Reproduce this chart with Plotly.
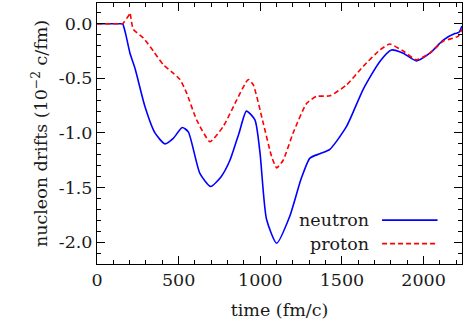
import plotly.graph_objects as go

# neutron drift (10^-2 c/fm) vs time (fm/c)
neutron_t = [0, 150, 157, 175, 202, 233, 294, 355, 416, 467, 522, 559, 630, 696, 760, 814, 870, 915,
             967, 998, 1038, 1100, 1181, 1250, 1304, 1365, 1426, 1528, 1630, 1732, 1803,
             1875, 1956, 2038, 2120, 2191, 2215, 2235]
neutron_v = [0.0, 0.0, 0.0, -0.09, -0.27, -0.41, -0.76, -1.00, -1.10, -1.05, -0.95, -0.99, -1.37, -1.49,
             -1.40, -1.25, -1.00, -0.80, -0.88, -1.18, -1.79, -2.01, -1.76, -1.42, -1.23,
             -1.19, -1.15, -0.94, -0.60, -0.345, -0.24, -0.27, -0.34, -0.27, -0.15, -0.09,
             -0.08, -0.02]

proton_t = [0, 150, 157, 198, 202, 206, 222, 284, 345, 406, 457, 508, 549, 610, 692, 773, 855, 926, 957,
            1018, 1069, 1100, 1140, 1201, 1283, 1344, 1426, 1528, 1630, 1732, 1793, 1875,
            1956, 2038, 2120, 2211, 2235]
proton_v = [0.0, 0.0, 0.0, 0.085, 0.10, 0.07, -0.05, -0.13, -0.25, -0.375, -0.44, -0.51, -0.635, -0.88, -1.08,
            -0.94, -0.70, -0.51, -0.56, -0.91, -1.215, -1.32, -1.25, -1.00, -0.73, -0.665,
            -0.66, -0.56, -0.39, -0.24, -0.186, -0.25, -0.33, -0.27, -0.16, -0.115, -0.05]

y_tick_default = ["\u22122.0", "\u22121.5", "\u22121.0", "\u22120.5"]
y_ticktext = ["-2.0", "-1.5", "-1.0", "-0.5"]

series_names = ["neutron", "proton"]

X_RANGE = [0, 2235]
Y_RANGE = [-2.2, 0.19]
X_MAJOR, X_MINOR = 500, 100
Y_MAJOR, Y_MINOR = 0.5, 0.1

FONT = "DejaVu Serif"
TXT = "#1a1a1a"
FS = 17.5

fig = go.Figure()
fig.add_trace(go.Scatter(x=neutron_t, y=neutron_v, mode="lines", name=series_names[0],
                         line=dict(color="#0000ff", width=1.6, shape="spline", smoothing=0.6),
                         showlegend=False))
fig.add_trace(go.Scatter(x=proton_t, y=proton_v, mode="lines", name=series_names[1],
                         line=dict(color="#ff0000", width=1.6, dash="5px,3px", shape="spline", smoothing=0.5),
                         showlegend=False))
# empty traces so the extra tick-only axes are drawn
for k in (2, 3, 4):
    fig.add_trace(go.Scatter(x=[None], y=[None], xaxis=f"x{k}", yaxis=f"y{k}", mode="lines",
                             showlegend=False, hoverinfo="skip"))

def tick_axis(rng, dtick, length, side, overlay, anchor):
    return dict(range=rng, tickmode="linear", tick0=0, dtick=dtick, ticks="inside",
                ticklen=length, tickwidth=1, tickcolor="red" if False else "#000000",
                showticklabels=False, showline=False, showgrid=False, zeroline=False,
                side=side, overlaying=overlay, anchor=anchor)

fig.update_layout(
    xaxis=dict(range=X_RANGE, tickmode="linear", tick0=0, dtick=X_MAJOR, ticks="inside",
               ticklen=8, tickwidth=1, tickcolor="#000000", showline=True, linecolor="black",
               linewidth=1, mirror=True, showgrid=False,
               tickfont=dict(family=FONT, size=FS, color=TXT),
               title=dict(text="time (fm/c)", font=dict(family=FONT, size=FS, color=TXT), standoff=14)),
    yaxis=dict(range=Y_RANGE, tickmode="linear", tick0=0, dtick=Y_MAJOR, tickformat=".1f",
               labelalias=dict(zip(y_tick_default, y_ticktext)), ticks="inside",
               ticklen=8, tickwidth=1, tickcolor="#000000", showline=True, linecolor="black",
               linewidth=1, mirror=True, showgrid=False, zeroline=False,
               tickfont=dict(family=FONT, size=FS, color=TXT),
               title=dict(text="nucleon drifts (10<sup>−2</sup> c/fm)", font=dict(family=FONT, size=FS, color=TXT), standoff=6)),
    xaxis2=tick_axis(X_RANGE, X_MINOR, 4, "bottom", "x", "y"),
    xaxis3=tick_axis(X_RANGE, X_MAJOR, 8, "top", "x", "y"),
    xaxis4=tick_axis(X_RANGE, X_MINOR, 4, "top", "x", "y"),
    yaxis2=tick_axis(Y_RANGE, Y_MINOR, 4, "left", "y", "x"),
    yaxis3=tick_axis(Y_RANGE, Y_MAJOR, 8, "right", "y", "x"),
    yaxis4=tick_axis(Y_RANGE, Y_MINOR, 4, "right", "y", "x"),
)

# legend drawn in the lower right, text left of the line sample
legend_y = [0.168, 0.078]
legend_style = [dict(color="#0000ff", width=1.6), dict(color="#ff0000", width=1.6, dash="5px,3px")]
for name, yy, st in zip(series_names, legend_y, legend_style):
    fig.add_annotation(xref="paper", yref="paper", x=0.74, y=yy, text=name, showarrow=False,
                       xanchor="right", yanchor="middle", xshift=4,
                       font=dict(family=FONT, size=FS, color=TXT))
    fig.add_shape(type="line", xref="paper", yref="paper", x0=0.781, x1=0.933, y0=yy, y1=yy,
                  line=st)

fig.update_layout(width=463, height=327, margin=dict(l=97, r=1, t=3, b=63),
                  plot_bgcolor="white", paper_bgcolor="white", showlegend=False)

fig.write_html("out.html", config={"displayModeBar": False},
               post_script="document.body.style.margin='0';")
